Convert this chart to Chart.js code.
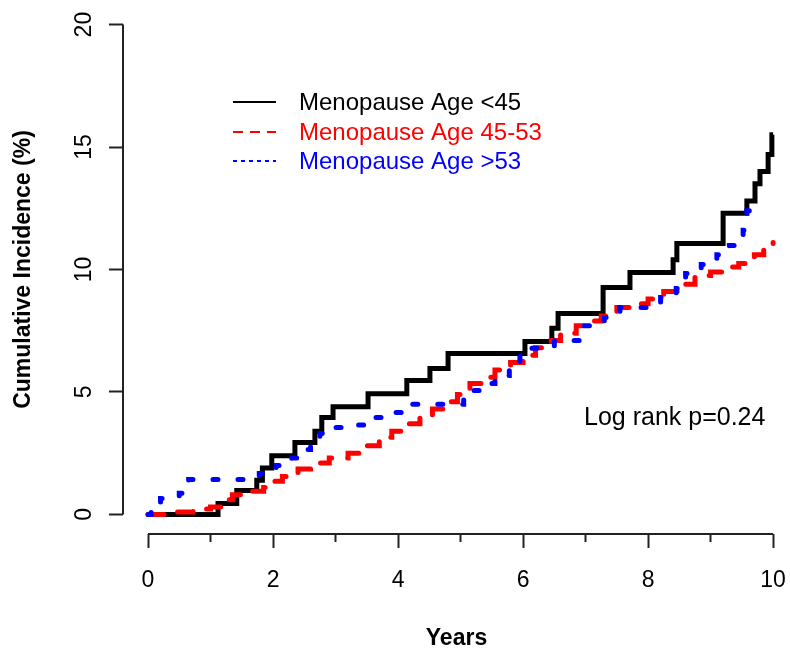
<!doctype html>
<html lang="en">
<head>
  <meta charset="utf-8">
  <title>Cumulative Incidence by Menopause Age</title>
  <script src="https://cdn.jsdelivr.net/npm/chart.js@4.4.1/dist/chart.umd.min.js"></script>
  <style>
    html, body { margin: 0; padding: 0; background: #fff; }
    #wrap { width: 790px; height: 654px; position: relative; }
  </style>
</head>
<body>
<div id="wrap"><canvas id="incChart"></canvas></div>

<script>
  // step curves: times where the estimate jumps, and the new value (%)
  const earlyTimes  = [0, 1.12, 1.42, 1.74, 1.83, 1.98, 2.35, 2.67, 2.78, 2.96, 3.52, 4.14, 4.51, 4.80, 6.03, 6.46, 6.56, 7.28, 7.71, 8.40, 8.46, 9.20, 9.58, 9.71, 9.79, 9.92, 9.98, 10];
  const earlyValues = [0, 0.45, 0.98, 1.39, 1.90, 2.40, 2.94, 3.40, 3.96, 4.40, 4.93, 5.47, 5.96, 6.57, 7.06, 7.60, 8.20, 9.27, 9.88, 10.4, 11.06, 12.3, 12.8, 13.5, 14.0, 14.7, 15.5, 15.5];

  const midTimes  = [0, 0.38, 0.72, 1.00, 1.25, 1.35, 1.50, 1.85, 2.00, 2.15, 2.40, 2.60, 2.90, 3.20, 3.40, 3.70, 3.90, 4.15, 4.35, 4.55, 4.75, 4.95, 5.15, 5.35, 5.55, 5.80, 6.00, 6.20, 6.45, 6.60, 6.85, 7.05, 7.25, 7.50, 7.80, 8.00, 8.25, 8.50, 8.75, 9.00, 9.25, 9.45, 9.70, 9.85, 10];
  const midValues = [0, 0.10, 0.22, 0.30, 0.60, 0.80, 0.95, 1.10, 1.35, 1.55, 1.85, 2.10, 2.30, 2.50, 2.80, 3.15, 3.40, 3.70, 4.00, 4.30, 4.60, 4.90, 5.35, 5.60, 5.90, 6.20, 6.50, 6.80, 7.10, 7.40, 7.70, 7.90, 8.10, 8.45, 8.60, 8.80, 9.10, 9.40, 9.75, 9.90, 10.1, 10.25, 10.6, 10.9, 11.1];

  const lateTimes  = [0, 0.05, 0.20, 0.50, 0.65, 1.78, 1.90, 2.05, 2.30, 2.45, 2.60, 2.75, 2.90, 3.30, 3.45, 3.75, 4.10, 5.05, 5.30, 5.55, 5.78, 5.95, 6.50, 6.98, 7.30, 7.55, 8.20, 8.45, 8.60, 8.85, 9.10, 9.30, 9.52, 9.58, 9.62];
  const lateValues = [0, 0.40, 0.65, 0.86, 1.43, 1.67, 1.90, 2.00, 2.30, 2.65, 3.00, 3.30, 3.55, 3.65, 3.96, 4.16, 4.50, 5.06, 5.35, 5.67, 6.16, 6.78, 7.10, 7.70, 8.04, 8.45, 8.86, 9.22, 9.84, 10.2, 10.6, 10.98, 11.6, 12.4, 12.4];

  const seriesNames = ['Menopause Age <45', 'Menopause Age 45-53', 'Menopause Age >53'];
  const xTickValues = [0, 1, 2, 3, 4, 5, 6, 7, 8, 9, 10];
  const yTickValues = [0, 5, 10, 15, 20];
  const pValueText = 'Log rank p=0.24';

  const FONT = '"Liberation Sans", Arial, sans-serif';

  function toPoints(times, values) {
    return times.map((t, i) => ({ x: t, y: values[i] }));
  }

  // R style axis lines, only from first to last tick
  const axisLines = {
    id: 'axisLines',
    afterDraw(chart) {
      const { ctx, chartArea, scales: { x, y } } = chart;
      ctx.save();
      ctx.strokeStyle = '#222';
      ctx.lineWidth = 2;
      ctx.beginPath();
      ctx.moveTo(x.getPixelForValue(xTickValues[0]), chartArea.bottom);
      ctx.lineTo(x.getPixelForValue(xTickValues[xTickValues.length - 1]), chartArea.bottom);
      ctx.moveTo(chartArea.left, y.getPixelForValue(yTickValues[0]));
      ctx.lineTo(chartArea.left, y.getPixelForValue(yTickValues[yTickValues.length - 1]));
      ctx.stroke();
      ctx.restore();
    }
  };

  // legend box inside the plot + p value
  const insideText = {
    id: 'insideText',
    afterDraw(chart) {
      const { ctx } = chart;
      const colors = ['#000000', '#ff0000', '#0000ff'];
      const dashes = [[], [10, 7], [4, 4]];
      const rows = [102, 132, 161];
      ctx.save();
      ctx.font = '24px ' + FONT;
      ctx.textBaseline = 'middle';
      ctx.textAlign = 'left';
      seriesNames.forEach((name, i) => {
        ctx.strokeStyle = colors[i];
        ctx.lineWidth = 2;
        ctx.setLineDash(dashes[i]);
        ctx.beginPath();
        ctx.moveTo(233, rows[i]);
        ctx.lineTo(276, rows[i]);
        ctx.stroke();
        ctx.fillStyle = colors[i];
        ctx.fillText(name, 299, rows[i] + 1);
      });
      ctx.setLineDash([]);
      ctx.fillStyle = '#000';
      ctx.font = '25px ' + FONT;
      ctx.textBaseline = 'alphabetic';
      ctx.fillText(pValueText, 584, 425);
      ctx.restore();
    }
  };

  new Chart(document.getElementById('incChart'), {
    type: 'line',
    data: {
      datasets: [
        {
          label: seriesNames[0],
          data: toPoints(earlyTimes, earlyValues),
          borderColor: '#000000',
          borderWidth: 5,
          stepped: true,
          order: 3
        },
        {
          label: seriesNames[1],
          data: toPoints(midTimes, midValues),
          borderColor: '#ff0000',
          borderWidth: 5,
          borderDash: [16, 16],
          borderCapStyle: 'round',
          stepped: true,
          order: 2
        },
        {
          label: seriesNames[2],
          data: toPoints(lateTimes, lateValues),
          borderColor: '#0000ff',
          borderWidth: 5,
          borderDash: [5, 20],
          borderCapStyle: 'round',
          stepped: true,
          order: 1
        }
      ]
    },
    options: {
      responsive: true,
      maintainAspectRatio: false,
      animation: false,
      layout: { padding: { top: 5, right: 0, bottom: 0, left: 0 } },
      elements: { point: { radius: 0 } },
      plugins: {
        legend: { display: false },
        tooltip: { enabled: false }
      },
      scales: {
        x: {
          type: 'linear',
          min: -0.4,
          max: 10.27,
          border: { display: false },
          grid: {
            drawOnChartArea: false,
            drawTicks: true,
            tickLength: 14,
            tickWidth: 2,
            tickColor: '#222',
            tickBorderDash: (c) => (c.tick && c.tick.value % 2 !== 0) ? [8, 40] : []
          },
          afterBuildTicks: (s) => { s.ticks = xTickValues.map(v => ({ value: v })); },
          afterFit: (s) => { s.height = 120; s.paddingLeft = 0; s.paddingRight = 0; },
          ticks: {
            color: '#000',
            padding: 19,
            maxRotation: 0,
            autoSkip: false,
            font: { family: FONT, size: 23 },
            callback: (v) => (v % 2 === 0 ? String(v) : '')
          },
          title: {
            display: true,
            text: 'Years',
            color: '#000',
            padding: { top: 0, bottom: 2 },
            font: { family: FONT, size: 23, weight: 'bold' }
          }
        },
        y: {
          type: 'linear',
          min: -0.8,
          max: 20.8,
          border: { display: false },
          grid: {
            drawOnChartArea: false,
            drawTicks: true,
            tickLength: 14,
            tickWidth: 2,
            tickColor: '#222'
          },
          afterBuildTicks: (s) => { s.ticks = yTickValues.map(v => ({ value: v })); },
          afterFit: (s) => { s.width = 123; s.paddingTop = 0; s.paddingBottom = 0; },
          ticks: {
            color: '#000',
            padding: 12,
            minRotation: 90,
            maxRotation: 90,
            crossAlign: 'center',
            autoSkip: false,
            font: { family: FONT, size: 23 }
          },
          title: {
            display: true,
            text: 'Cumulative Incidence (%)',
            color: '#000',
            padding: { top: 10, bottom: 0 },
            font: { family: FONT, size: 23, weight: 'bold' }
          }
        }
      }
    },
    plugins: [axisLines, insideText]
  });
</script>
</body>
</html>
